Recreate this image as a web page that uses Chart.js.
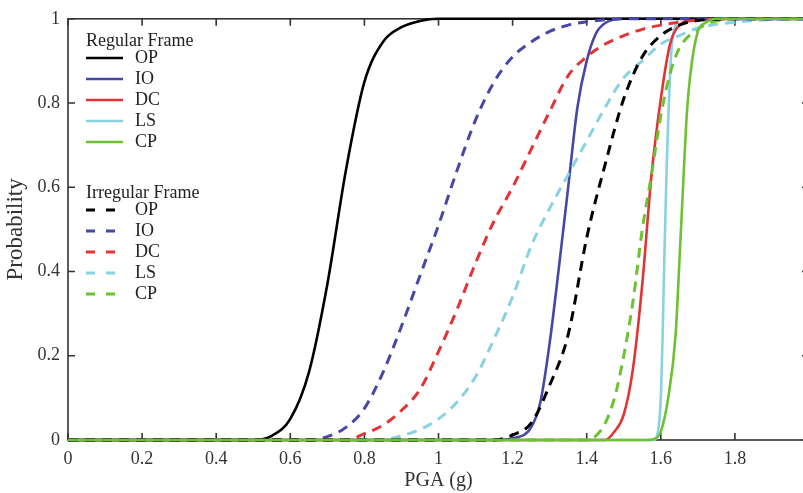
<!DOCTYPE html>
<html>
<head>
<meta charset="utf-8">
<script src="https://cdn.jsdelivr.net/npm/chart.js@4.4.0/dist/chart.umd.min.js"></script>
<style>
  html, body { margin: 0; padding: 0; background: #fff; overflow: hidden; }
  canvas { display: block; }
</style>
</head>
<body>
<canvas id="chart" width="817" height="493" style="width:817px;height:493px"></canvas>
<script>
// fragility curves, [PGA (g), probability]
const regularOP = [[0,0],[0.5,0],[0.55,0.01],[0.6,0.05],[0.65,0.16],[0.7,0.37],[0.75,0.64],[0.8,0.85],[0.85,0.945],[0.9,0.98],[0.95,0.995],[1.0,1],[2,1]];
const regularIO = [[0,0],[1.15,0],[1.2,0.004],[1.25,0.03],[1.275,0.09],[1.3,0.23],[1.325,0.41],[1.35,0.6],[1.375,0.79],[1.4,0.9],[1.425,0.965],[1.45,0.99],[1.5,1],[2,1]];
const regularDC = [[0,0],[1.45,0],[1.475,0.02],[1.5,0.06],[1.525,0.17],[1.55,0.37],[1.575,0.63],[1.6,0.81],[1.625,0.94],[1.65,0.985],[1.7,1],[2,1]];
const regularLS = [[0,0],[1.58,0],[1.59,0.01],[1.6,0.1],[1.605,0.25],[1.61,0.45],[1.615,0.62],[1.62,0.76],[1.625,0.87],[1.63,0.94],[1.64,0.985],[1.65,1],[2,1]];
const regularCP = [[0,0],[1.56,0],[1.58,0.002],[1.6,0.02],[1.62,0.1],[1.64,0.25],[1.65,0.42],[1.66,0.6],[1.67,0.77],[1.68,0.87],[1.7,0.97],[1.72,0.99],[1.75,1],[2,1]];

const irregularOP = [[0,0],[1.15,0],[1.2,0.012],[1.25,0.04],[1.3,0.13],[1.35,0.25],[1.4,0.48],[1.45,0.655],[1.5,0.81],[1.55,0.91],[1.6,0.96],[1.65,0.985],[1.7,0.996],[1.8,1],[2,1]];
const irregularIO = [[0,0],[0.65,0],[0.7,0.008],[0.75,0.03],[0.8,0.075],[0.85,0.16],[0.9,0.27],[0.95,0.39],[1.0,0.51],[1.05,0.64],[1.1,0.76],[1.15,0.85],[1.2,0.91],[1.25,0.945],[1.3,0.97],[1.35,0.985],[1.4,0.993],[1.5,1],[2,1]];
const irregularDC = [[0,0],[0.75,0],[0.8,0.015],[0.85,0.035],[0.9,0.07],[0.95,0.12],[1.0,0.21],[1.05,0.31],[1.1,0.42],[1.15,0.52],[1.2,0.6],[1.25,0.69],[1.3,0.78],[1.35,0.865],[1.4,0.91],[1.45,0.94],[1.5,0.96],[1.55,0.975],[1.6,0.985],[1.7,0.997],[1.8,1],[2,1]];
const irregularLS = [[0,0],[0.85,0],[0.9,0.01],[0.95,0.025],[1.0,0.05],[1.05,0.09],[1.1,0.15],[1.15,0.24],[1.2,0.34],[1.25,0.46],[1.3,0.55],[1.35,0.63],[1.4,0.71],[1.45,0.79],[1.5,0.86],[1.55,0.9],[1.6,0.94],[1.65,0.96],[1.7,0.978],[1.8,0.992],[1.9,0.998],[2,1]];
const irregularCP = [[0,0],[1.4,0],[1.425,0.01],[1.45,0.04],[1.475,0.1],[1.5,0.2],[1.525,0.33],[1.55,0.5],[1.575,0.63],[1.6,0.77],[1.625,0.87],[1.65,0.93],[1.7,0.975],[1.75,0.995],[1.8,1],[2,1]];

const stateLabels = ['OP', 'IO', 'DC', 'LS', 'CP'];
const stateColors = ['#000000', '#4747a6', '#e43336', '#8ad2e2', '#6cc232'];
const xTickValues = [0, 0.2, 0.4, 0.6, 0.8, 1, 1.2, 1.4, 1.6, 1.8, 2];
const yTickValues = [0, 0.2, 0.4, 0.6, 0.8, 1];

const SERIF = '"Liberation Serif", "Times New Roman", serif';
const DASH = [10, 7];

const regular = [regularOP, regularIO, regularDC, regularLS, regularCP];
const irregular = [irregularOP, irregularIO, irregularDC, irregularLS, irregularCP];

const toXY = (pts) => pts.map(([x, y]) => ({ x: x, y: y }));

const datasets = [];
regular.forEach((pts, i) => {
    datasets.push({
        label: stateLabels[i], group: 'Regular Frame', data: toXY(pts),
        borderColor: stateColors[i], borderWidth: 2.6, borderDash: [],
        order: i === 4 ? 0 : 6 + i
    });
});
irregular.forEach((pts, i) => {
    datasets.push({
        label: stateLabels[i], group: 'Irregular Frame', data: toXY(pts),
        borderColor: stateColors[i], borderWidth: 3, borderDash: DASH,
        order: 1 + i
    });
});
datasets.forEach(d => {
    d.pointRadius = 0;
    d.fill = false;
    d.cubicInterpolationMode = 'monotone';
    d.clip = 4;
});

// box round the plot with ticks pointing inwards
const frameTicks = {
    id: 'frameTicks',
    beforeDatasetsDraw(chart) {
        const { ctx, chartArea: a, scales } = chart;
        const len = 7;
        ctx.save();
        ctx.strokeStyle = '#333';
        ctx.lineWidth = 1.6;
        ctx.strokeRect(a.left, a.top, a.right - a.left, a.bottom - a.top);
        ctx.beginPath();
        xTickValues.forEach(v => {
            const px = scales.x.getPixelForValue(v);
            ctx.moveTo(px, a.bottom); ctx.lineTo(px, a.bottom - len);
            ctx.moveTo(px, a.top); ctx.lineTo(px, a.top + len);
        });
        yTickValues.forEach(v => {
            const py = scales.y.getPixelForValue(v);
            ctx.moveTo(a.left, py); ctx.lineTo(a.left + len, py);
            ctx.moveTo(a.right, py); ctx.lineTo(a.right - len, py);
        });
        ctx.stroke();
        ctx.restore();
    }
};

// two-group legend in the upper left corner
const groupLegend = {
    id: 'groupLegend',
    afterDraw(chart) {
        const { ctx } = chart;
        const groups = [
            { title: 'Regular Frame', top: 41 },
            { title: 'Irregular Frame', top: 193 }
        ];
        ctx.save();
        ctx.font = '18px ' + SERIF;
        ctx.textBaseline = 'middle';
        ctx.fillStyle = '#222';
        groups.forEach(g => {
            ctx.fillText(g.title, 86, g.top);
            const items = chart.data.datasets.filter(d => d.group === g.title);
            items.forEach((d, i) => {
                const y = g.top + 17 + i * 21;
                ctx.strokeStyle = d.borderColor;
                ctx.lineWidth = d.borderWidth;
                ctx.beginPath();
                if (d.borderDash.length) {
                    ctx.moveTo(86, y); ctx.lineTo(95, y);
                    ctx.moveTo(106, y); ctx.lineTo(115, y);
                } else {
                    ctx.moveTo(86, y); ctx.lineTo(123, y);
                }
                ctx.stroke();
                ctx.fillText(d.label, 135, y);
            });
        });
        ctx.restore();
    }
};

new Chart(document.getElementById('chart'), {
    type: 'line',
    data: { datasets: datasets },
    options: {
        responsive: false,
        animation: false,
        devicePixelRatio: 1,
        layout: { padding: { top: 16, right: 0, left: 0, bottom: 0 } },
        plugins: { legend: { display: false }, tooltip: { enabled: false } },
        scales: {
            x: {
                type: 'linear', min: 0, max: 2,
                grid: { display: false, drawTicks: false },
                border: { display: false },
                afterBuildTicks: (s) => { s.ticks = xTickValues.map(v => ({ value: v })); },
                afterFit: (s) => { s.height = 53; },
                ticks: {
                    color: '#333', padding: 8, maxRotation: 0, autoSkip: false,
                    font: { family: SERIF, size: 18 },
                    callback: (v) => v === 2 ? '' : String(+v.toFixed(1))
                },
                title: {
                    display: true, text: 'PGA (g)', color: '#333',
                    font: { family: SERIF, size: 20 }, padding: { top: 0, bottom: 0 }
                }
            },
            y: {
                type: 'linear', min: 0, max: 1,
                grid: { display: false, drawTicks: false },
                border: { display: false },
                afterBuildTicks: (s) => { s.ticks = yTickValues.map(v => ({ value: v })); },
                afterFit: (s) => { s.width = 68; },
                ticks: {
                    color: '#333', padding: 8,
                    font: { family: SERIF, size: 18 },
                    callback: (v) => String(+v.toFixed(1))
                },
                title: {
                    display: true, text: 'Probability', color: '#333',
                    font: { family: SERIF, size: 23 }, padding: { top: 2, bottom: 0 }
                }
            }
        }
    },
    plugins: [frameTicks, groupLegend]
});
</script>
</body>
</html>
